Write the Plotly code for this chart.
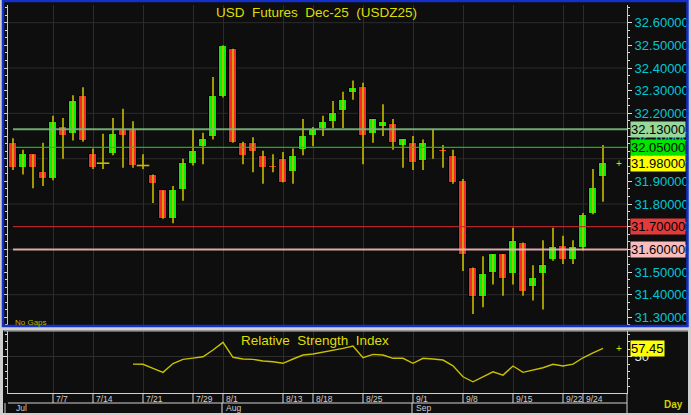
import plotly.graph_objects as go
import numpy as np

# ---------------- data ----------------
bar_index = list(range(60))
opens = [32.07, 31.96, 32.02, 31.94, 31.91, 32.14, 32.11, 32.275, 32.02, 31.98,
         32.02, 32.125, 32.125, 31.97, 31.93, 31.86, 31.735, 31.86, 31.975, 32.05,
         32.095, 32.27, 32.485, 32.07, 32.07, 32.01, 31.97, 32.00, 31.94, 32.04,
         32.10, 32.13, 32.16, 32.21, 32.29, 32.315, 32.11, 32.14, 32.155, 32.055,
         32.07, 31.99, 32.045, 32.04, 32.01, 31.90, 31.52, 31.39, 31.495, 31.58,
         31.49, 31.63, 31.435, 31.49, 31.555, 31.615, 31.555, 31.605, 31.755, 31.92]
highs = [32.09, 32.04, 32.02, 32.07, 32.19, 32.18, 32.28, 32.315, 32.045, 32.11,
         32.18, 32.22, 32.165, 32.02, 31.93, 31.86, 31.88, 32.00, 32.13, 32.115,
         32.36, 32.50, 32.485, 32.075, 32.095, 32.035, 32.02, 32.03, 32.045, 32.175,
         32.14, 32.19, 32.255, 32.295, 32.345, 32.335, 32.175, 32.24, 32.175, 32.085,
         32.10, 32.085, 32.13, 32.06, 32.04, 31.91, 31.52, 31.57, 31.58, 31.58,
         31.695, 31.63, 31.53, 31.64, 31.695, 31.66, 31.64, 31.76, 31.955, 32.06]
lows = [31.95, 31.93, 31.87, 31.88, 31.905, 32.00, 32.08, 32.075, 31.955, 31.955,
        32.015, 31.96, 31.96, 31.955, 31.805, 31.735, 31.715, 31.815, 31.97, 31.975,
        32.085, 32.27, 32.07, 31.975, 31.94, 31.89, 31.94, 31.895, 31.89, 32.015,
        32.055, 32.10, 32.135, 32.135, 32.26, 31.975, 32.07, 32.10, 32.04, 31.96,
        31.95, 31.95, 32.00, 31.96, 31.89, 31.505, 31.315, 31.345, 31.445, 31.395,
        31.445, 31.395, 31.375, 31.335, 31.55, 31.535, 31.535, 31.595, 31.755, 31.81]
closes = [31.96, 32.02, 31.96, 31.91, 32.16, 32.10, 32.255, 32.08, 31.96, 31.98,
          32.11, 32.10, 31.97, 31.97, 31.89, 31.735, 31.86, 31.98, 32.035, 32.085,
          32.275, 32.495, 32.07, 32.01, 32.03, 31.96, 31.96, 31.895, 32.01, 32.10,
          32.13, 32.16, 32.20, 32.26, 32.31, 32.10, 32.175, 32.16, 32.07, 32.085,
          31.98, 32.07, 32.04, 32.03, 31.895, 31.575, 31.39, 31.49, 31.58, 31.47,
          31.635, 31.41, 31.475, 31.53, 31.61, 31.555, 31.61, 31.75, 31.87, 31.98]

rsi_index = list(range(12, 60))
rsi_values = [43.5, 43.3, 39.7, 36.2, 44.0, 47.7, 48.8, 50.0, 55.9, 62.7,
              49.5, 48.0, 47.7, 46.2, 45.6, 44.2, 48.0, 51.5, 52.4, 53.9,
              55.3, 57.4, 59.5, 49.1, 52.1, 51.5, 48.6, 48.6, 44.2, 48.6,
              48.0, 47.1, 42.0, 32.3, 27.9, 32.3, 36.7, 33.8, 41.8, 36.2,
              38.2, 40.3, 43.3, 41.8, 43.5, 49.1, 53.5, 57.45]

date_tick_index = [4, 8, 13, 18, 21, 27, 30, 35, 40, 45, 50, 55, 57]
date_tick_labels = ["7/7", "7/14", "7/21", "7/29", "8/1", "8/13", "8/18",
                    "8/25", "9/1", "9/8", "9/15", "9/22", "9/24"]
month_index = [0, 21, 40]
month_labels = ["Jul", "Aug", "Sep"]

level_values = [32.13, 32.05, 31.70, 31.60]
level_line_colors = ["#7cba7c", "#14c814", "#c42a2a", "#f2b8b8"]
level_line_widths = [2, 1.3, 1.3, 2]
level_badge_colors = ["#98d898", "#00e400", "#e43a3a", "#f8bcbc"]
last_price = 31.98
last_rsi = 57.45

title_text = "USD\u00a0 Futures\u00a0 Dec-25\u00a0 (USDZ25)"
rsi_title = "Relative\u00a0 Strength\u00a0 Index"

# ---------------- geometry helpers (pixel -> paper) ----------------
W, H = 691, 415
ML, MR, MT, MB = 8, 64, 5, 22
PW, PH = W - ML - MR, H - MT - MB


def px(X):
    return (X - ML) / PW


def py(Y):
    return (H - MB - Y) / PH


FONT = "Liberation Sans, Arial, sans-serif"
YELLOW = "#dede00"
WICK = "#c8bc00"
X_RANGE = [-0.5, 61.4]

fig = go.Figure()

# wicks
wx, wy = [], []
for i, h, l in zip(bar_index, highs, lows):
    wx += [i, i, None]
    wy += [l, h, None]
fig.add_trace(go.Scatter(x=wx, y=wy, mode="lines", line=dict(color=WICK, width=1.6),
                         xaxis="x", yaxis="y", hoverinfo="skip", showlegend=False))

# bodies
up = [k for k in bar_index if closes[k] > opens[k]]
dn = [k for k in bar_index if closes[k] < opens[k]]
dj = [k for k in bar_index if closes[k] == opens[k]]
fig.add_trace(go.Bar(x=up, y=[closes[k] - opens[k] for k in up], base=[opens[k] for k in up],
                     width=0.8, marker=dict(color="#00f400", line=dict(color="#000000", width=1)),
                     xaxis="x", yaxis="y", showlegend=False))
fig.add_trace(go.Bar(x=dn, y=[opens[k] - closes[k] for k in dn], base=[closes[k] for k in dn],
                     width=0.8, marker=dict(color="#fa2828", line=dict(color="#000000", width=1)),
                     xaxis="x", yaxis="y", showlegend=False))
fig.add_trace(go.Scatter(x=dj, y=[closes[k] for k in dj], mode="markers",
                         marker=dict(symbol="line-ew", size=9, line=dict(color=WICK, width=1.6)),
                         xaxis="x", yaxis="y", showlegend=False))

# RSI
fig.add_trace(go.Scatter(x=rsi_index, y=rsi_values, mode="lines",
                         line=dict(color="#c8c000", width=1.4),
                         xaxis="x2", yaxis="y2", showlegend=False))

shapes = []
shapes.append(dict(type="rect", xref="paper", yref="paper", x0=px(4), x1=px(688), y0=py(325.5),
                   y1=py(1.5), fillcolor="#0e0e0e", line=dict(width=0), layer="below"))
shapes.append(dict(type="rect", xref="paper", yref="paper", x0=px(3), x1=px(688), y0=py(413),
                   y1=py(330.5), fillcolor="#0e0e0e", line=dict(width=0), layer="below"))
shapes.append(dict(type="rect", xref="paper", yref="paper", x0=px(3), x1=px(687.5), y0=py(326),
                   y1=py(1), line=dict(color="#1430c8", width=2.5), layer="above"))
shapes.append(dict(type="line", xref="paper", yref="paper", x0=px(4), x1=px(688), y0=py(331),
                   y1=py(331), line=dict(color="#bcbcbc", width=1)))
for lv in np.arange(31.4, 32.61, 0.2):
    shapes.append(dict(type="line", xref="paper", yref="y", x0=0, x1=1, y0=lv, y1=lv,
                       line=dict(color="#2c2c2c", width=1), layer="below"))
for lv, col, lw in zip(level_values, level_line_colors, level_line_widths):
    shapes.append(dict(type="line", xref="x", yref="y", x0=0, x1=X_RANGE[1], y0=lv, y1=lv,
                       line=dict(color=col, width=lw), layer="above", opacity=0.9))
shapes.append(dict(type="line", xref="paper", yref="paper", x0=0, x1=1, y0=py(403), y1=py(403),
                   line=dict(color="#d0d0d0", width=1)))
shapes.append(dict(type="line", xref="paper", yref="paper", x0=1, x1=1, y0=py(393), y1=py(413),
                   line=dict(color="#d0d0d0", width=1)))
shapes.append(dict(type="line", xref="paper", yref="paper", x0=px(5), x1=px(5), y0=py(403), y1=py(413),
                   line=dict(color="#d0d0d0", width=1)))
for i in date_tick_index:
    shapes.append(dict(type="line", xref="x2", yref="paper", x0=i, x1=i, y0=py(393), y1=py(403),
                       line=dict(color="#d8d8d8", width=1)))
for i in month_index[1:]:
    shapes.append(dict(type="line", xref="x2", yref="paper", x0=i - 0.1, x1=i - 0.1, y0=py(403),
                       y1=py(413), line=dict(color="#d8d8d8", width=1)))

annotations = []
annotations.append(dict(text=title_text, xref="paper", yref="paper", x=px(316), y=py(12),
                        xanchor="center", yanchor="middle", showarrow=False,
                        font=dict(family=FONT, size=13.5, color=YELLOW)))
annotations.append(dict(text=rsi_title, xref="paper", yref="paper", x=px(314.5), y=py(340),
                        xanchor="center", yanchor="middle", showarrow=False,
                        font=dict(family=FONT, size=13.5, color=YELLOW)))
annotations.append(dict(text="No Gaps", xref="paper", yref="paper", x=px(13), y=py(322),
                        xanchor="left", yanchor="middle", showarrow=False,
                        font=dict(family=FONT, size=8, color="#b8b800")))
annotations.append(dict(text="<b>Day</b>", xref="paper", yref="paper", x=px(673), y=py(405),
                        xanchor="center", yanchor="middle", showarrow=False,
                        font=dict(family=FONT, size=10, color="#d0d000")))
for i, t in zip(date_tick_index, date_tick_labels):
    annotations.append(dict(text=t, xref="x2", yref="paper", x=i, y=py(398.5), xanchor="left",
                            yanchor="middle", xshift=1, showarrow=False,
                            font=dict(family=FONT, size=8.5, color="#cfcfcf")))
for i, t in zip(month_index, month_labels):
    annotations.append(dict(text=t, xref="x2", yref="paper", x=i, y=py(408.3), xanchor="left",
                            yanchor="middle", xshift=1, showarrow=False,
                            font=dict(family=FONT, size=8.5, color="#cfcfcf")))
for lv, col in zip(level_values, level_badge_colors):
    annotations.append(dict(text=f"{lv:.5f}", xref="paper", yref="y", x=1, y=lv, xanchor="left",
                            yanchor="middle", xshift=3, showarrow=False, bgcolor=col, borderpad=0,
                            font=dict(family=FONT, size=13, color="#000000")))
annotations.append(dict(text=f"{last_price:.5f}", xref="paper", yref="y", x=1, y=last_price,
                        xanchor="left", yanchor="middle", xshift=3, showarrow=False,
                        bgcolor="#ffff00", borderpad=0,
                        font=dict(family=FONT, size=13, color="#000000")))
annotations.append(dict(text="+", xref="paper", yref="y", x=1, y=last_price, xanchor="right",
                        yanchor="middle", xshift=-3, showarrow=False,
                        font=dict(family=FONT, size=10, color=YELLOW)))
annotations.append(dict(text=f"{last_rsi:.2f}", xref="paper", yref="y2", x=1, y=last_rsi,
                        xanchor="left", yanchor="middle", xshift=3, showarrow=False,
                        bgcolor="#ffff00", borderpad=0,
                        font=dict(family=FONT, size=13, color="#000000")))
annotations.append(dict(text="+", xref="paper", yref="y2", x=1, y=last_rsi, xanchor="right",
                        yanchor="middle", xshift=-3, showarrow=False,
                        font=dict(family=FONT, size=10, color=YELLOW)))

fig.update_layout(
    template="none",
    width=W, height=H,
    margin=dict(l=ML, r=MR, t=MT, b=MB, pad=0, autoexpand=False),
    paper_bgcolor="#cfcfcf",
    plot_bgcolor="#161616",
    barmode="overlay",
    bargap=0,
    showlegend=False,
    shapes=shapes,
    annotations=annotations,
    xaxis=dict(domain=[0, 1], anchor="y", range=X_RANGE, tickmode="array", automargin=False,
               tickvals=date_tick_index, showticklabels=False, ticks="",
               showgrid=True, gridcolor="#2c2c2c", gridwidth=1, zeroline=False,
               showline=False),
    xaxis2=dict(domain=[0, 1], anchor="y2", range=X_RANGE, matches="x", tickmode="array",
                automargin=False, tickvals=date_tick_index, showticklabels=False, ticks="",
                showgrid=True, gridcolor="#2c2c2c", gridwidth=1, zeroline=False,
                showline=True, linecolor="#d0d0d0", linewidth=1),
    yaxis=dict(domain=[py(326), 1], anchor="x", side="right", range=[31.262, 32.678],
               automargin=False,
               tickmode="linear", tick0=31.3, dtick=0.1, tickformat=".5f",
               tickfont=dict(family=FONT, size=13, color="#00c8d4"),
               ticks="outside", ticklen=4, tickcolor="#dcdcdc", tickwidth=1,
               minor=dict(tickmode="linear", tick0=31.3, dtick=0.1 / 3, ticks="outside",
                          ticklen=2, tickcolor="#dcdcdc", showgrid=False),
               showline=True, linecolor="#c8c8c8", linewidth=1, mirror="ticks",
               showgrid=False, zeroline=False),
    yaxis2=dict(domain=[0, py(331)], anchor="x2", side="right", range=[18, 72.7],
                automargin=False,
                tickmode="array", tickvals=[50], ticktext=["50"],
                tickfont=dict(family=FONT, size=13, color="#e8e8e8"),
                ticks="outside", ticklen=4, tickcolor="#dcdcdc",
                minor=dict(tickmode="linear", tick0=50, dtick=6.5, ticks="outside",
                           ticklen=2, tickcolor="#dcdcdc", showgrid=False),
                showline=True, linecolor="#c8c8c8", linewidth=1, mirror="ticks",
                showgrid=True, gridcolor="#2e2e2e", zeroline=False),
)

fig.write_html(
    "out.html",
    config={"displayModeBar": False},
    post_script="document.body.style.margin='0px';document.body.style.overflow='hidden';",
)
